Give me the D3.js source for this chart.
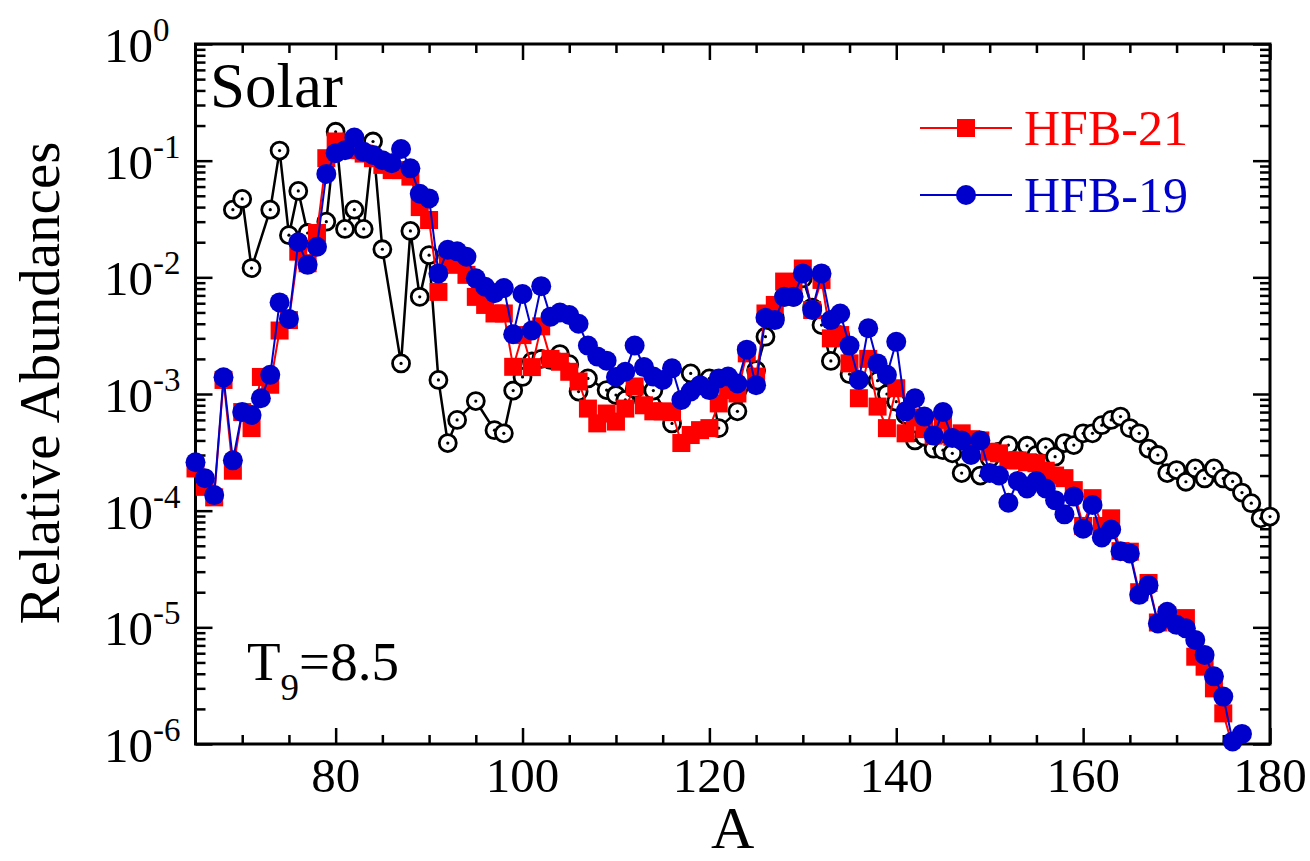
<!DOCTYPE html>
<html>
<head>
<meta charset="utf-8">
<script src="https://cdn.jsdelivr.net/npm/d3@7"></script>
<style>
  body { margin: 0; background: #fff; }
  text { font-family: "Liberation Serif", "Times New Roman", serif; }
</style>
</head>
<body>
<svg id="chart" width="1310" height="861"></svg>
<script>
// Mass numbers and relative abundances
const massHFB21 = [65,66,67,68,69,70,71,72,73,74,75,76,77,78,79,80,81,82,83,84,85,86,87,88,89,90,
  91,92,93,94,95,96,97,98,99,100,101,102,103,104,105,106,107,108,109,110,111,112,113,114,115,116,117,
  118,119,120,121,122,123,124,125,126,127,128,129,130,131,132,133,134,135,136,137,138,139,140,141,142,
  143,144,145,146,147,148,149,150,151,152,153,154,155,156,157,158,159,160,161,162,163,164,165,166,167,
  168,169,170,171,172,173,174,175,176];
const hfb21 = [2.3e-4,1.6e-4,1.3e-4,1.32e-3,2.2e-4,7.0e-4,5.1e-4,1.4e-3,1.2e-3,3.5e-3,4.3e-3,1.66e-2,
  1.32e-2,2.4e-2,0.105,0.146,0.14,0.123,0.115,0.105,0.092,0.083,0.083,0.073,0.040,0.031,
  7.5e-3,1.36e-2,1.28e-2,1.05e-2,6.8e-3,5.8e-3,4.9e-3,4.9e-3,1.71e-3,3.2e-3,1.7e-3,3.8e-3,2.0e-3,
  1.89e-3,1.55e-3,1.28e-3,7.5e-4,5.6e-4,6.8e-4,5.8e-4,7.5e-4,1.16e-3,8.0e-4,7.1e-4,7.1e-4,7.0e-4,
  3.8e-4,4.45e-4,4.9e-4,5.1e-4,8.3e-4,1.08e-3,1.01e-3,2.23e-3,1.41e-3,4.9e-3,5.8e-3,9.2e-3,8.9e-3,
  1.19e-2,5.25e-3,9.5e-3,3.0e-3,3.2e-3,1.83e-3,9.2e-4,2.0e-3,7.8e-4,5.1e-4,1.12e-3,4.6e-4,6.3e-4,
  5.0e-4,4.4e-4,6.0e-4,4.3e-4,4.6e-4,4.1e-4,4.0e-4,3.2e-4,3.1e-4,2.7e-4,2.7e-4,2.6e-4,2.55e-4,2.2e-4,
  2.0e-4,1.9e-4,1.5e-4,7.4e-5,1.28e-4,7.4e-5,8.6e-5,4.5e-5,4.45e-5,2.0e-5,2.4e-5,1.1e-5,1.27e-5,
  1.1e-5,1.2e-5,5.6e-6,4.6e-6,3.0e-6,1.83e-6,9.5e-7];

const massHFB19 = [65,66,67,68,69,70,71,72,73,74,75,76,77,78,79,80,81,82,83,84,85,86,87,88,89,90,
  91,92,93,94,95,96,97,98,99,100,101,102,103,104,105,106,107,108,109,110,111,112,113,114,115,116,117,
  118,119,120,121,122,123,124,125,126,127,128,129,130,131,132,133,134,135,136,137,138,139,140,141,142,
  143,144,145,146,147,148,149,150,151,152,153,154,155,156,157,158,159,160,161,162,163,164,165,166,167,
  168,169,170,171,172,173,174,175,176,177];
const hfb19 = [2.6e-4,1.9e-4,1.36e-4,1.39e-3,2.7e-4,7.0e-4,6.6e-4,9.2e-4,1.46e-3,6.1e-3,4.4e-3,2.0e-2,
  1.28e-2,1.83e-2,7.7e-2,0.116,0.123,0.158,0.119,0.112,0.101,0.095,0.126,0.086,0.052,0.0475,
  1.08e-2,1.72e-2,1.67e-2,1.5e-2,9.8e-3,8.3e-3,7.3e-3,8.1e-3,3.25e-3,7.2e-3,3.5e-3,8.4e-3,4.6e-3,
  5.0e-3,4.75e-3,4.0e-3,2.6e-3,2.1e-3,1.93e-3,1.4e-3,1.55e-3,2.6e-3,1.7e-3,1.41e-3,1.32e-3,1.66e-3,
  8.9e-4,1.05e-3,1.19e-3,1.08e-3,1.36e-3,1.41e-3,1.23e-3,2.4e-3,1.19e-3,4.5e-3,4.3e-3,6.8e-3,6.8e-3,
  1.08e-2,5.25e-3,1.08e-2,4.3e-3,4.9e-3,2.6e-3,1.32e-3,3.66e-3,1.83e-3,1.46e-3,2.8e-3,7.1e-4,9.2e-4,
  6.4e-4,4.4e-4,7.0e-4,4.2e-4,4.0e-4,3.0e-4,4.0e-4,2.1e-4,2.0e-4,1.17e-4,1.8e-4,1.55e-4,1.8e-4,1.55e-4,
  1.23e-4,9.3e-5,1.32e-4,7.0e-5,1.12e-4,5.9e-5,6.9e-5,4.5e-5,4.3e-5,1.9e-5,2.3e-5,1.08e-5,1.36e-5,
  1.05e-5,9.8e-6,7.8e-6,5.8e-6,3.8e-6,2.55e-6,1.05e-6,1.22e-6];

const massSolar = [69,70,71,73,74,75,76,77,79,80,81,82,83,84,85,87,88,89,90,91,92,93,95,97,98,99,100,
  101,102,103,104,105,106,107,109,110,111,112,114,116,118,120,121,123,125,126,127,128,129,130,131,132,
  133,134,135,138,139,140,141,142,143,144,145,146,147,149,150,151,152,154,155,156,157,158,159,160,161,
  162,163,164,165,166,167,168,169,170,171,172,173,174,175,176,177,178,179,180];
const solar = [0.038,0.047,0.012,0.038,0.122,0.023,0.055,0.024,0.030,0.177,0.026,0.038,0.026,0.146,
  0.0174,1.83e-3,0.025,6.8e-3,0.0155,1.32e-3,3.8e-4,6.0e-4,8.7e-4,4.9e-4,4.6e-4,1.07e-3,1.4e-3,
  1.9e-3,2.0e-3,1.96e-3,2.2e-3,1.8e-3,1.05e-3,1.36e-3,1.08e-3,9.8e-4,8.9e-4,1.1e-3,1.07e-3,5.6e-4,
  1.5e-3,1.36e-3,5.1e-4,7.1e-4,1.6e-3,3.1e-3,4.5e-3,6.8e-3,6.8e-3,9.8e-3,5.5e-3,3.9e-3,
  1.92e-3,3.2e-3,1.48e-3,1.3e-3,1.0e-3,8.6e-4,6.6e-4,4.0e-4,4.3e-4,3.4e-4,3.3e-4,3.1e-4,2.1e-4,2.0e-4,
  2.8e-4,3.2e-4,3.65e-4,3.6e-4,3.0e-4,3.5e-4,2.9e-4,3.8e-4,3.65e-4,4.6e-4,4.6e-4,
  5.4e-4,6.0e-4,6.4e-4,5.1e-4,4.6e-4,3.4e-4,3.0e-4,2.1e-4,2.23e-4,1.77e-4,2.3e-4,1.89e-4,2.3e-4,
  1.89e-4,1.78e-4,1.43e-4,1.16e-4,8.6e-5,8.9e-5];

const xTicksMajor = [80, 100, 120, 140, 160, 180];
const yDecades = [0, -1, -2, -3, -4, -5, -6];
const legendLabels = ["HFB-21", "HFB-19"];

const svg = d3.select("#chart");
const plotLeft = 195.5, plotRight = 1270, plotTop = 44, plotBottom = 744;

const x = d3.scaleLinear().domain([65, 180]).range([plotLeft, plotRight]);
const y = d3.scaleLog().domain([1e-6, 1]).range([plotBottom, plotTop]);

const red = "#ff0000", blue = "#0000cc";

// connecting lines are clipped to the frame; symbols are drawn whole if their centre is inside
svg.append("defs").append("clipPath").attr("id", "plotClip")
  .append("rect").attr("x", plotLeft).attr("y", plotTop)
  .attr("width", plotRight - plotLeft).attr("height", plotBottom - plotTop);
const inside = d => d[0] >= 65 && d[0] <= 180 && d[1] >= 1e-6 && d[1] <= 1;

// ---- axes: ticks drawn inward on all four sides ----
const minorX = d3.range(70, 181, 5).filter(v => !xTicksMajor.includes(v));
const decadeVals = yDecades.map(e => Math.pow(10, e));
const minorY = [];
for (let e = -6; e < 0; e++) for (let m = 2; m <= 9; m++) minorY.push(m * Math.pow(10, e));

function styleAxis(g) {
  g.selectAll("path.domain").remove();
  g.selectAll("line").attr("stroke", "#000").attr("stroke-width", 2.5);
  g.selectAll("text").remove();
}

svg.append("g").attr("transform", `translate(0,${plotBottom})`)
  .call(d3.axisBottom(x).tickValues(xTicksMajor).tickSize(-16)).call(styleAxis);
svg.append("g").attr("transform", `translate(0,${plotBottom})`)
  .call(d3.axisBottom(x).tickValues(minorX).tickSize(-9)).call(styleAxis);
svg.append("g").attr("transform", `translate(0,${plotTop})`)
  .call(d3.axisTop(x).tickValues(xTicksMajor).tickSize(-16)).call(styleAxis);
svg.append("g").attr("transform", `translate(0,${plotTop})`)
  .call(d3.axisTop(x).tickValues(minorX).tickSize(-9)).call(styleAxis);

svg.append("g").attr("transform", `translate(${plotLeft},0)`)
  .call(d3.axisLeft(y).tickValues(decadeVals).tickSize(-17)).call(styleAxis);
svg.append("g").attr("transform", `translate(${plotLeft},0)`)
  .call(d3.axisLeft(y).tickValues(minorY).tickSize(-10)).call(styleAxis);
svg.append("g").attr("transform", `translate(${plotRight},0)`)
  .call(d3.axisRight(y).tickValues(decadeVals).tickSize(-17)).call(styleAxis);
svg.append("g").attr("transform", `translate(${plotRight},0)`)
  .call(d3.axisRight(y).tickValues(minorY).tickSize(-10)).call(styleAxis);

// frame
svg.append("rect").attr("x", plotLeft).attr("y", plotTop)
  .attr("width", plotRight - plotLeft).attr("height", plotBottom - plotTop)
  .attr("fill", "none").attr("stroke", "#000").attr("stroke-width", 3);

// x tick labels
svg.append("g").selectAll("text").data(xTicksMajor).join("text")
  .attr("x", d => x(d)).attr("y", 792)
  .attr("text-anchor", "middle").attr("font-size", 49)
  .text(d => d);

// y tick labels 10^n, mantissas aligned on the left
const yl = svg.append("g").selectAll("text").data(yDecades).join("text")
  .attr("x", 104).attr("y", d => y(Math.pow(10, d)) + 18)
  .attr("text-anchor", "start").attr("font-size", 49);
yl.append("tspan").text("10");
yl.append("tspan").attr("font-size", 33).attr("dy", -21).text(d => String(d));

// axis titles
svg.append("text").attr("x", x(122.5)).attr("y", 848).attr("text-anchor", "middle")
  .attr("font-size", 60).text("A");
svg.append("text").attr("transform", "translate(59,383) rotate(-90)").attr("text-anchor", "middle")
  .attr("font-size", 57).text("Relative Abundances");

// ---- data ----
const marks = svg.append("g");
const line = d3.line().x(d => x(d[0])).y(d => y(d[1]));

const solarPts = massSolar.map((a, i) => [a, solar[i]]);
const p21 = massHFB21.map((a, i) => [a, hfb21[i]]);
const p19 = massHFB19.map((a, i) => [a, hfb19[i]]);

// solar: open circles with a centre dot
const solarLayer = marks.append("g");
solarLayer.append("path").datum(solarPts).attr("d", line).attr("clip-path", "url(#plotClip)")
  .attr("fill", "none").attr("stroke", "#000").attr("stroke-width", 2.5);
const sg = solarLayer.append("g").selectAll("g").data(solarPts.filter(inside)).join("g")
  .attr("transform", d => `translate(${x(d[0])},${y(d[1])})`);
sg.append("circle").attr("r", 8.5).attr("fill", "#fff").attr("stroke", "#000").attr("stroke-width", 2.8);
sg.append("circle").attr("r", 1.6).attr("fill", "#000");

// HFB-21: red squares
const redLayer = marks.append("g");
redLayer.append("path").datum(p21).attr("d", line).attr("clip-path", "url(#plotClip)")
  .attr("fill", "none").attr("stroke", red).attr("stroke-width", 2);
redLayer.append("g").selectAll("rect").data(p21.filter(inside)).join("rect")
  .attr("x", d => x(d[0]) - 9).attr("y", d => y(d[1]) - 9)
  .attr("width", 18).attr("height", 18).attr("fill", red);

// HFB-19: blue circles
const blueLayer = marks.append("g");
blueLayer.append("path").datum(p19).attr("d", line).attr("clip-path", "url(#plotClip)")
  .attr("fill", "none").attr("stroke", blue).attr("stroke-width", 2);
blueLayer.append("g").selectAll("circle").data(p19.filter(inside)).join("circle")
  .attr("cx", d => x(d[0])).attr("cy", d => y(d[1])).attr("r", 10).attr("fill", blue);

// ---- annotations ----
svg.append("text").attr("x", 210).attr("y", 107).attr("font-size", 63).text("Solar");

const t9 = svg.append("text").attr("x", 247).attr("y", 680).attr("font-size", 55);
t9.append("tspan").text("T");
t9.append("tspan").attr("font-size", 37).attr("dy", 20).text("9");
t9.append("tspan").attr("dy", -20).text("=8.5");

// ---- legend ----
const lg = svg.append("g");
[[red, 128], [blue, 195]].forEach(([c, ly], i) => {
  lg.append("line").attr("x1", 920).attr("x2", 1012).attr("y1", ly).attr("y2", ly)
    .attr("stroke", c).attr("stroke-width", 2);
  if (i === 0) {
    lg.append("rect").attr("x", 957).attr("y", ly - 9).attr("width", 18).attr("height", 18).attr("fill", c);
  } else {
    lg.append("circle").attr("cx", 966).attr("cy", ly).attr("r", 10).attr("fill", c);
  }
  lg.append("text").attr("x", 1024).attr("y", ly + 17).attr("font-size", 50).attr("fill", c)
    .text(legendLabels[i]);
});
</script>
</body>
</html>
